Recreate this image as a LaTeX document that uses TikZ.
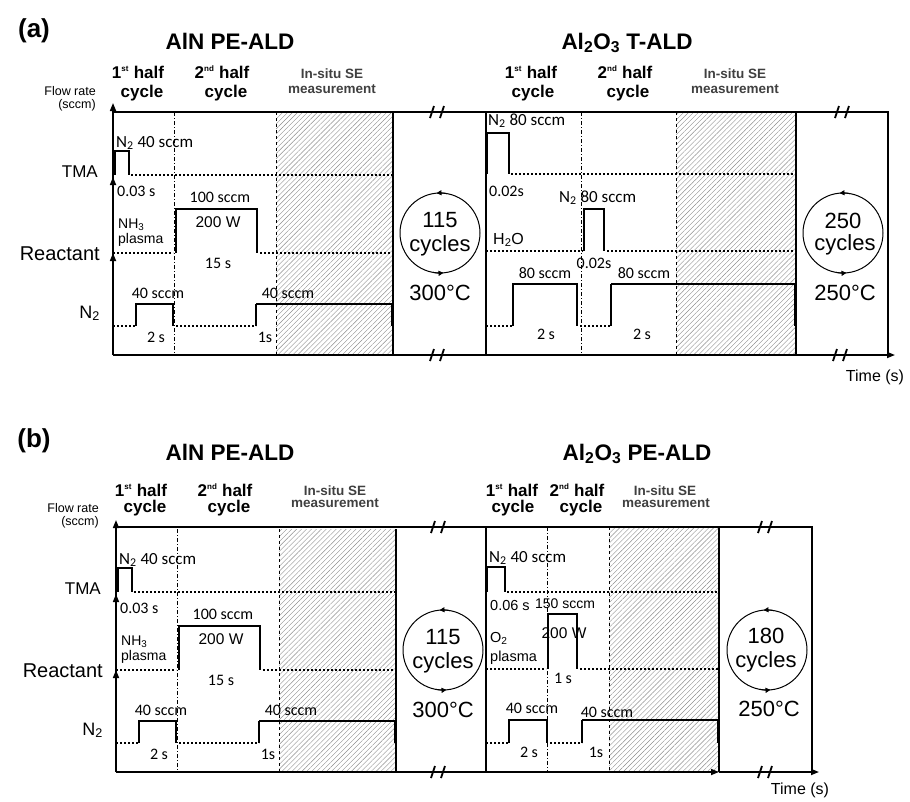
\documentclass[tikz,border=0pt]{standalone}
\usepackage{fontspec}
\setmainfont{Liberation Sans}
\newfontfamily\calfont{Carlito}
\usetikzlibrary{arrows.meta,patterns.meta}
\newcommand{\setfs}[1]{\fontsize{#1}{#1}\selectfont}
\newcommand{\ordsup}[1]{\textsuperscript{\setfs{8}#1}}

\tikzset{
  brk/.pic={\draw[line width=1.8pt] (-7,6) -- (-3,-6) (3,6) -- (7,-6);}
}

\begin{document}
\begin{tikzpicture}[x=1pt,y=-1pt,
  frame/.style={line width=1.6pt},
  axisarrow/.style={line width=1.6pt,-{Triangle[length=8pt,width=6pt]}},
  pulse/.style={line width=1.8pt},
  purge/.style={line width=2.6pt},
  idle/.style={line width=2.4pt,dash pattern=on 2.2pt off 1.8pt},
  stepline/.style={line width=0.6pt,dash pattern=on 4pt off 2pt on 1pt off 2pt},
  window/.style={pattern={Lines[angle=45,distance=3.5pt,line width=0.4pt]},pattern color=black!45},
  cyc/.style={line width=1pt},
  cycarrow/.style={cyc,-{Triangle[length=5pt,width=5pt]}},
  txt/.style={anchor=base,inner sep=0pt},
  lbl/.style={txt,font=\setfs{17}},
  cal/.style={txt,font=\calfont\setfs{16}},
  big/.style={txt,font=\setfs{22}},
  head/.style={txt,font=\bfseries\setfs{17}},
  se/.style={txt,font=\bfseries\setfs{13.5},text=black!75},
  title/.style={txt,font=\bfseries\setfs{22.5}}]

\useasboundingbox (0,0) rectangle (910,801);

% AlN PE-ALD section, drawn in both panels
\foreach \dx/\dy in {0/0,3/417}{
\begin{scope}[shift={(\dx,\dy)}]
  \fill[window] (276,112) rectangle (393,355);
  \draw[thin,dashed] (276,112) -- (276,355);
  \draw[stepline] (174,112) -- (174,355);
  \draw[axisarrow] (113,355) -- (113,103);
  \draw[axisarrow] (113,192) -- (113,177);
  \draw[axisarrow] (113,268) -- (113,253);
  \draw[frame] (393,112) -- (393,355);
  % TMA
  \draw[pulse] (115,175) -- (115,151) -- (129,151) -- (129,175);
  \draw[idle] (131,175) -- (393,175);
  % NH3 plasma
  \draw[idle] (113,253) -- (173,253);
  \draw[pulse] (176,253) -- (176,209) -- (257,209) -- (257,253);
  \draw[idle] (260,253) -- (393,253);
  % N2
  \draw[idle] (113,326) -- (136,326);
  \draw[pulse] (136,326) -- (136,304) -- (173,304) -- (173,326);
  \draw[idle] (176,326) -- (256,326);
  \draw[pulse] (256,326) -- (256,304);
  \draw[purge] (256,304) -- (392,304) -- (392,326);
  % labels
  \node[txt,font=\setfs{12.5},anchor=base east] (flow\dy) at (96,95) {Flow rate};
  \node[txt,font=\setfs{12.5},anchor=base east] (unit\dy) at (96,108) {(sccm)};
  \node[lbl,anchor=base east] (tma\dy) at (98,177) {TMA};
  \node[lbl,font=\setfs{20},anchor=base east] (react\dy) at (100,260) {Reactant};
  \node[lbl,font=\setfs{18},anchor=base east] (nit\dy) at (100,318) {N\textsubscript{2}};
  \node[cal,font=\calfont\setfs{17},anchor=base west] (tmaflow\dy) at (116,147) {N\textsubscript{2} 40 sccm};
  \node[cal,anchor=base west] (tmat\dy) at (117,196) {0.03 s};
  \node[cal] (nhflow\dy) at (220,202) {100 sccm};
  \node[lbl,font=\setfs{15.5}] (power\dy) at (218,227) {200 W};
  \node[lbl,font=\setfs{14},anchor=base west] (nh\dy) at (118,228) {NH\textsubscript{3}};
  \node[lbl,font=\setfs{14},anchor=base west] (plas\dy) at (118,243) {plasma};
  \node[cal] (nht\dy) at (218,268) {15 s};
  \node[cal] (pflowa\dy) at (158,298) {40 sccm};
  \node[cal] (pta\dy) at (156,342) {2 s};
  \node[cal] (pflowb\dy) at (288,298) {40 sccm};
  \node[cal] (ptb\dy) at (265,342) {1s};
  % cycles
  \draw[cyc] (440,233) circle (40);
  \draw[cycarrow] (440,233) ++(-80:40) arc (-80:-95:40);
  \draw[cycarrow] (440,233) ++(100:40) arc (100:85:40);
  \node[big] (num\dy) at (440,227) {115};
  \node[big] (cyc\dy) at (440,251) {cycles};
  \node[big] (temp\dy) at (440,300) {300°C};
\end{scope}
}

% panel (a)
\node[txt,font=\bfseries\setfs{26}] (pa) at (34,37) {(a)};
\node[title] (ta1) at (230,49) {AlN PE-ALD};
\node[title] (ta2) at (627,49) {Al\textsubscript{2}O\textsubscript{3} T-ALD};
\node[head] (ha1) at (138,78) {1\ordsup{st} half};
\node[head] (ha2) at (142,97) {cycle};
\node[head] (ha3) at (222,78) {2\ordsup{nd} half};
\node[head] (ha4) at (226,97) {cycle};
\node[se] (ha5) at (332,78) {In-situ SE};
\node[se] (ha6) at (332,93) {measurement};
\node[head] (ha7) at (531,78) {1\ordsup{st} half};
\node[head] (ha8) at (533,97) {cycle};
\node[head] (ha9) at (625,78) {2\ordsup{nd} half};
\node[head] (ha10) at (628,97) {cycle};
\node[se] (ha11) at (735,78) {In-situ SE};
\node[se] (ha12) at (735,93) {measurement};

\fill[window] (676,112) rectangle (796,355);
\draw[thin,dashed] (676,112) -- (676,355);
\draw[stepline] (581,112) -- (581,355);
\draw[frame] (113,112) -- (888,112) -- (888,355);
\draw[axisarrow] (113,355) -- (895,355);
\draw[frame] (486,112) -- (486,355) (796,112) -- (796,355);
\pic at (437,112) {brk}; \pic at (437,355) {brk};
\pic at (842,112) {brk}; \pic at (840,355) {brk};
% TMA
\draw[pulse] (487,174) -- (487,133) -- (509,133) -- (509,174);
\draw[idle] (511,174) -- (796,174);
% H2O
\draw[idle] (486,251) -- (583,251);
\draw[pulse] (584,251) -- (584,209) -- (604,209) -- (604,251);
\draw[idle] (607,251) -- (796,251);
% N2
\draw[idle] (486,326) -- (513,326);
\draw[pulse] (513,326) -- (513,284) -- (577,284) -- (577,326);
\draw[idle] (580,326) -- (611,326);
\draw[pulse] (611,326) -- (611,284);
\draw[purge] (611,284) -- (795,284) -- (795,326);
\node[cal,font=\calfont\setfs{17},anchor=base west] (la1) at (488,125) {N\textsubscript{2} 80 sccm};
\node[cal,anchor=base west] (la2) at (489,196) {0.02s};
\node[cal,font=\calfont\setfs{17},anchor=base west] (la3) at (559,202) {N\textsubscript{2} 80 sccm};
\node[lbl,font=\setfs{16},anchor=base west] (la4) at (493,244) {H\textsubscript{2}O};
\node[cal] (la5) at (594,268) {0.02s};
\node[cal] (la6) at (545,278) {80 sccm};
\node[cal] (la7) at (644,278) {80 sccm};
\node[cal] (la8) at (546,339) {2 s};
\node[cal] (la9) at (642,339) {2 s};
\draw[cyc] (843,233) circle (40);
\draw[cycarrow] (843,233) ++(-80:40) arc (-80:-95:40);
\draw[cycarrow] (843,233) ++(100:40) arc (100:85:40);
\node[big] (la10) at (843,228) {250};
\node[big] (la11) at (845,250) {cycles};
\node[big] (la12) at (845,300) {250°C};
\node[lbl,font=\setfs{16}] (timea) at (875,381) {Time (s)};

% panel (b)
\node[txt,font=\bfseries\setfs{26}] (pb) at (34,447) {(b)};
\node[title] (tb1) at (230,460) {AlN PE-ALD};
\node[title] (tb2) at (637,460) {Al\textsubscript{2}O\textsubscript{3} PE-ALD};
\node[head] (hb1) at (141,496) {1\ordsup{st} half};
\node[head] (hb2) at (145,512) {cycle};
\node[head] (hb3) at (225,496) {2\ordsup{nd} half};
\node[head] (hb4) at (229,512) {cycle};
\node[se] (hb5) at (335,495) {In-situ SE};
\node[se] (hb6) at (335,507) {measurement};
\node[head] (hb7) at (512,496) {1\ordsup{st} half};
\node[head] (hb8) at (513,512) {cycle};
\node[head] (hb9) at (577,496) {2\ordsup{nd} half};
\node[head] (hb10) at (581,512) {cycle};
\node[se] (hb11) at (665,495) {In-situ SE};
\node[se] (hb12) at (666,507) {measurement};

\fill[window] (609,527) rectangle (719,772);
\draw[thin,dashed] (609,527) -- (609,772);
\draw[stepline] (547,527) -- (547,772);
\draw[frame] (116,527) -- (812,527) -- (812,772);
\draw[axisarrow] (116,772) -- (719,772);
\draw[axisarrow] (719,772) -- (819,772);
\draw[frame] (486,527) -- (486,772) (719,527) -- (719,772);
\pic at (438,527) {brk}; \pic at (438,772) {brk};
\pic at (765,527) {brk}; \pic at (765,772) {brk};
% TMA
\draw[pulse] (487,592) -- (487,567) -- (505,567) -- (505,592);
\draw[idle] (507,592) -- (719,592);
% O2 plasma
\draw[idle] (486,669) -- (546,669);
\draw[pulse] (548,669) -- (548,614) -- (577,614) -- (577,669);
\draw[idle] (580,669) -- (719,669);
% N2
\draw[idle] (486,743) -- (509,743);
\draw[pulse] (509,743) -- (509,720) -- (547,720) -- (547,743);
\draw[idle] (550,743) -- (582,743);
\draw[pulse] (582,743) -- (582,720);
\draw[purge] (582,720) -- (718,720) -- (718,743);
\node[cal,font=\calfont\setfs{17},anchor=base west] (lb1) at (489,562) {N\textsubscript{2} 40 sccm};
\node[lbl,font=\setfs{14.5},anchor=base west] (lb2) at (490,610) {0.06 s};
\node[lbl,font=\setfs{14}] (lb3) at (565,608) {150 sccm};
\node[lbl,font=\setfs{15.5}] (lb4) at (564,638) {200 W};
\node[lbl,font=\setfs{14.5},anchor=base west] (lb5) at (490,642) {O\textsubscript{2}};
\node[lbl,font=\setfs{14.5},anchor=base west] (lb6) at (490,661) {plasma};
\node[cal] (lb7) at (563,683) {1 s};
\node[cal] (lb8) at (532,713) {40 sccm};
\node[cal] (lb9) at (607,717) {40 sccm};
\node[cal] (lb10) at (529,757) {2 s};
\node[cal] (lb11) at (596,757) {1s};
\draw[cyc] (767,650) circle (40);
\draw[cycarrow] (767,650) ++(-80:40) arc (-80:-95:40);
\draw[cycarrow] (767,650) ++(100:40) arc (100:85:40);
\node[big] (lb12) at (766,643) {180};
\node[big] (lb13) at (766,667) {cycles};
\node[big] (lb14) at (769,716) {250°C};
\node[lbl,font=\setfs{16}] (timeb) at (800,794) {Time (s)};

\end{tikzpicture}
\end{document}
